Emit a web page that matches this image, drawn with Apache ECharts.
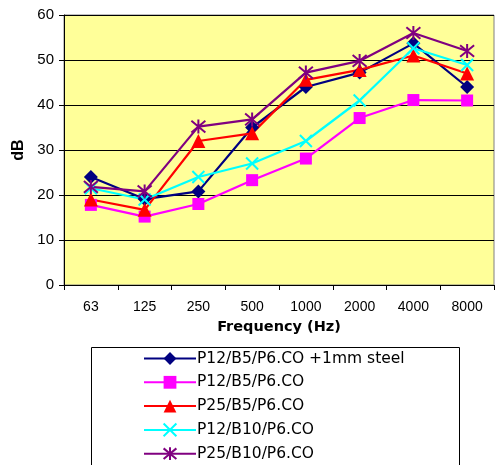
<!DOCTYPE html>
<html>
<head>
<meta charset="utf-8">
<script src="https://cdn.jsdelivr.net/npm/echarts@6/dist/echarts.min.js"></script>
<style>html,body{margin:0;padding:0;background:#fff}#c{width:496px;height:465px}</style>
</head>
<body>
<div id="c"></div>
<script>
const categories = ['63', '125', '250', '500', '1000', '2000', '4000', '8000'];
const seriesNames = ['P12/B5/P6.CO +1mm steel', 'P12/B5/P6.CO', 'P25/B5/P6.CO', 'P12/B10/P6.CO', 'P25/B10/P6.CO'];
const steel = [24, 19.1, 20.8, 35, 44, 47.2, 53.7, 44];
const p12b5 = [17.8, 15.2, 18, 23.3, 28.1, 37.1, 41.1, 41];
const p25b5 = [19, 16.7, 32, 33.7, 45.6, 47.8, 51, 47];
const p12b10 = [21.5, 19, 24, 27, 32, 41, 52.6, 48.9];
const p25b10 = [21.8, 20.8, 35.2, 36.8, 47.2, 49.8, 56, 52];
const yTicks = { min: 0, max: 60, interval: 10 };

const chart = echarts.init(document.getElementById('c'), null, { renderer: 'canvas' });
const font = 'Liberation Sans, Arial, sans-serif';
function mk(name, data, color, symbol, size, extra) {
  return Object.assign({
    name: name, type: 'line', data: data, symbol: symbol, symbolSize: size,
    lineStyle: { color: color, width: 2.2 },
    itemStyle: { color: color, borderColor: color, borderWidth: 0 },
    showAllSymbol: true, animation: false, z: 3
  }, extra || {});
}
const crossPath = 'path://M0,0L10,10M10,0L0,10';
const starPath = 'path://M0,0L10,10M10,0L0,10M5,-1L5,11';
chart.setOption({
  backgroundColor: '#ffffff',
  animation: false,
  grid: { left: 64, right: 2, top: 15, bottom: 180, show: true, backgroundColor: '#FFFF99', borderColor: '#808080', borderWidth: 1 },
  xAxis: {
    type: 'category', data: categories, boundaryGap: true,
    name: 'Frequency (Hz)', nameLocation: 'middle', nameGap: 35,
    nameTextStyle: { fontFamily: 'DejaVu Sans, sans-serif', fontWeight: 'bold', fontSize: 14.5, color: '#000' },
    axisLine: { lineStyle: { color: '#000', width: 1 } },
    axisTick: { show: true, inside: false, length: 5, lineStyle: { color: '#000' } },
    axisLabel: { fontFamily: font, fontSize: 14, color: '#000', margin: 15, interval: 0 },
    splitLine: { show: false }
  },
  yAxis: {
    type: 'value', min: yTicks.min, max: yTicks.max, interval: yTicks.interval,
    name: 'dB', nameLocation: 'middle', nameGap: 27, nameRotate: 90,
    nameTextStyle: { fontFamily: font, fontWeight: 'bold', fontSize: 16, color: '#000' },
    axisLine: { show: true, lineStyle: { color: '#000', width: 1 } },
    axisTick: { show: true, inside: false, length: 5, lineStyle: { color: '#000' } },
    axisLabel: { fontFamily: font, fontSize: 15, color: '#000', margin: 10 },
    splitLine: { show: true, lineStyle: { color: '#000', width: 1 } }
  },
  legend: {
    orient: 'vertical', left: 143, top: 350.5, height: 160, padding: 0,
    itemWidth: 52, itemHeight: 16, itemGap: 7.8,
    textStyle: { fontFamily: 'DejaVu Sans, sans-serif', fontSize: 15.5, color: '#000', padding: [0, 0, 0, -4] },
    data: seriesNames
  },
  graphic: [{
    type: 'rect', shape: { x: 91.5, y: 347.5, width: 368, height: 130 },
    style: { fill: '#fff', stroke: '#000', lineWidth: 1 }, z: -1
  }],
  series: [
    mk(seriesNames[0], steel, '#000080', 'diamond', 14),
    mk(seriesNames[1], p12b5, '#FF00FF', 'rect', 12),
    mk(seriesNames[2], p25b5, '#FF0000', 'triangle', 14),
    mk(seriesNames[3], p12b10, '#00FFFF', crossPath, 12, { itemStyle: { color: '#00FFFF', borderColor: '#00FFFF', borderWidth: 2 } }),
    mk(seriesNames[4], p25b10, '#800080', starPath, 14, { itemStyle: { color: '#800080', borderColor: '#800080', borderWidth: 2 } })
  ]
});
</script>
</body>
</html>
